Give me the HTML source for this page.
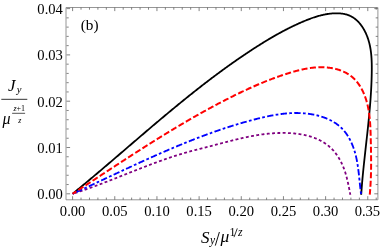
<!DOCTYPE html>
<html><head><meta charset="utf-8"><title>plot</title>
<style>html,body{margin:0;padding:0;background:#fff;}svg{display:block;will-change:transform;}text{font-family:"Liberation Serif",serif;fill:#000;}</style>
</head><body>
<svg width="381" height="249" viewBox="0 0 381 249">
<rect x="0" y="0" width="381" height="249" fill="#ffffff"/>
<g fill="none" stroke-linejoin="round">
<path d="M72.60,193.80 L73.18,193.33 L73.76,192.86 L74.33,192.38 L74.91,191.91 L75.49,191.44 L76.07,190.96 L76.65,190.49 L77.22,190.01 L77.80,189.54 L78.38,189.06 L78.95,188.59 L79.53,188.11 L80.11,187.64 L80.68,187.16 L81.26,186.69 L81.83,186.21 L82.41,185.73 L82.98,185.25 L83.56,184.78 L84.13,184.30 L84.71,183.82 L85.28,183.34 L85.86,182.86 L86.43,182.38 L87.01,181.90 L87.58,181.42 L88.16,180.94 L88.73,180.46 L89.30,179.98 L89.88,179.50 L90.45,179.02 L91.02,178.54 L91.60,178.06 L92.17,177.58 L92.74,177.10 L93.32,176.61 L93.89,176.13 L94.46,175.65 L95.03,175.17 L95.61,174.68 L96.18,174.20 L96.75,173.72 L97.32,173.23 L97.90,172.75 L98.47,172.26 L99.04,171.78 L99.61,171.30 L100.18,170.81 L100.75,170.33 L101.33,169.84 L101.90,169.36 L102.47,168.87 L103.04,168.39 L103.61,167.90 L104.18,167.41 L104.75,166.93 L105.32,166.44 L105.89,165.96 L106.46,165.47 L107.04,164.98 L107.61,164.50 L108.18,164.01 L108.75,163.52 L109.32,163.04 L109.89,162.55 L110.46,162.06 L111.03,161.57 L111.60,161.09 L112.17,160.60 L112.74,160.11 L113.31,159.62 L113.88,159.14 L114.45,158.65 L115.02,158.16 L115.59,157.67 L116.16,157.18 L116.73,156.69 L117.30,156.21 L117.87,155.72 L118.44,155.23 L119.01,154.74 L119.58,154.25 L120.15,153.76 L120.72,153.27 L121.29,152.78 L121.86,152.30 L122.43,151.81 L123.00,151.32 L123.57,150.83 L124.14,150.34 L124.71,149.85 L125.28,149.36 L125.85,148.87 L126.42,148.38 L126.99,147.89 L127.56,147.41 L128.12,146.92 L128.69,146.43 L129.26,145.94 L129.83,145.45 L130.40,144.96 L130.97,144.47 L131.54,143.98 L132.11,143.49 L132.68,143.00 L133.25,142.51 L133.83,142.02 L134.40,141.54 L134.97,141.05 L135.54,140.56 L136.11,140.07 L136.68,139.58 L137.25,139.09 L137.82,138.60 L138.39,138.11 L138.96,137.63 L139.53,137.14 L140.10,136.65 L140.67,136.16 L141.24,135.67 L141.81,135.18 L142.38,134.70 L142.96,134.21 L143.53,133.72 L144.10,133.23 L144.67,132.74 L145.24,132.26 L145.81,131.77 L146.38,131.28 L146.96,130.79 L147.53,130.31 L148.10,129.82 L148.67,129.33 L149.24,128.85 L149.82,128.36 L150.39,127.87 L150.96,127.39 L151.53,126.90 L152.11,126.42 L152.68,125.93 L153.25,125.44 L153.83,124.96 L154.40,124.47 L154.97,123.99 L155.55,123.50 L156.12,123.02 L156.69,122.53 L157.27,122.05 L157.84,121.56 L158.42,121.08 L158.99,120.60 L159.56,120.11 L160.14,119.63 L160.71,119.14 L161.29,118.66 L161.86,118.18 L162.44,117.70 L163.01,117.21 L163.59,116.73 L164.17,116.25 L164.74,115.77 L165.32,115.29 L165.89,114.80 L166.47,114.32 L167.05,113.84 L167.62,113.36 L168.20,112.88 L168.78,112.40 L169.36,111.92 L169.93,111.44 L170.51,110.96 L171.09,110.48 L171.67,110.00 L172.25,109.53 L172.82,109.05 L173.40,108.57 L173.98,108.09 L174.56,107.62 L175.14,107.14 L175.72,106.66 L176.30,106.19 L176.88,105.71 L177.46,105.23 L178.04,104.76 L178.62,104.28 L179.20,103.81 L179.78,103.33 L180.36,102.86 L180.95,102.38 L181.53,101.91 L182.11,101.44 L182.69,100.97 L183.27,100.49 L183.86,100.02 L184.44,99.55 L185.02,99.08 L185.61,98.61 L186.19,98.14 L186.77,97.67 L187.36,97.20 L187.94,96.73 L188.53,96.26 L189.11,95.79 L189.70,95.32 L190.28,94.85 L190.87,94.38 L191.46,93.92 L192.04,93.45 L192.63,92.98 L193.22,92.52 L193.80,92.05 L194.39,91.59 L194.98,91.12 L195.57,90.66 L196.15,90.19 L196.74,89.73 L197.33,89.27 L197.92,88.80 L198.51,88.34 L199.10,87.88 L199.69,87.42 L200.28,86.96 L200.87,86.50 L201.46,86.04 L202.06,85.58 L202.65,85.12 L203.24,84.66 L203.83,84.20 L204.42,83.75 L205.02,83.29 L205.61,82.83 L206.20,82.38 L206.80,81.92 L207.39,81.47 L207.99,81.01 L208.58,80.56 L209.18,80.10 L209.77,79.65 L210.37,79.20 L210.97,78.75 L211.56,78.29 L212.16,77.84 L212.76,77.39 L213.36,76.94 L213.95,76.49 L214.55,76.05 L215.15,75.60 L215.75,75.15 L216.35,74.70 L216.95,74.26 L217.55,73.81 L218.15,73.36 L218.75,72.92 L219.36,72.48 L219.96,72.03 L220.56,71.59 L221.16,71.15 L221.77,70.70 L222.37,70.26 L222.97,69.82 L223.58,69.38 L224.18,68.94 L224.79,68.50 L225.39,68.07 L226.00,67.63 L226.60,67.19 L227.21,66.75 L227.82,66.32 L228.43,65.88 L229.03,65.45 L229.64,65.01 L230.25,64.58 L230.86,64.15 L231.47,63.72 L232.08,63.28 L232.69,62.85 L233.30,62.42 L233.91,61.99 L234.53,61.57 L235.14,61.14 L235.75,60.71 L236.36,60.28 L236.98,59.86 L237.59,59.43 L238.21,59.01 L238.82,58.58 L239.44,58.16 L240.05,57.74 L240.67,57.32 L241.29,56.89 L241.90,56.47 L242.52,56.05 L243.14,55.63 L243.76,55.22 L244.38,54.80 L245.00,54.38 L245.62,53.97 L246.24,53.55 L246.86,53.14 L247.48,52.72 L248.10,52.31 L248.73,51.90 L249.35,51.48 L249.97,51.07 L250.60,50.66 L251.22,50.25 L251.85,49.85 L252.47,49.44 L253.10,49.03 L253.73,48.62 L254.35,48.22 L254.98,47.81 L255.61,47.41 L256.24,47.01 L256.87,46.60 L257.50,46.20 L258.13,45.80 L258.76,45.40 L259.39,45.00 L260.02,44.61 L260.66,44.21 L261.29,43.81 L261.92,43.42 L262.56,43.02 L263.19,42.63 L263.83,42.24 L264.47,41.85 L265.11,41.46 L265.74,41.07 L266.38,40.68 L267.02,40.30 L267.66,39.91 L268.30,39.53 L268.95,39.15 L269.59,38.76 L270.23,38.38 L270.88,38.00 L271.52,37.63 L272.17,37.25 L272.82,36.87 L273.46,36.50 L274.11,36.13 L274.76,35.76 L275.41,35.39 L276.06,35.02 L276.72,34.65 L277.37,34.29 L278.02,33.92 L278.68,33.56 L279.33,33.20 L279.99,32.84 L280.65,32.48 L281.31,32.12 L281.97,31.77 L282.63,31.41 L283.29,31.06 L283.95,30.71 L284.62,30.36 L285.28,30.01 L285.95,29.67 L286.62,29.33 L287.28,28.98 L287.95,28.64 L288.63,28.30 L289.30,27.97 L289.97,27.63 L290.64,27.30 L291.32,26.97 L292.00,26.64 L292.67,26.31 L293.35,25.98 L294.03,25.66 L294.71,25.34 L295.40,25.02 L296.08,24.70 L296.77,24.38 L297.45,24.07 L298.14,23.76 L298.83,23.44 L299.52,23.14 L300.21,22.83 L300.90,22.53 L301.60,22.22 L302.29,21.92 L302.99,21.63 L303.69,21.33 L304.39,21.04 L305.09,20.75 L305.79,20.46 L306.49,20.17 L307.20,19.89 L307.91,19.61 L308.61,19.34 L309.32,19.06 L310.04,18.80 L310.75,18.53 L311.46,18.27 L312.18,18.02 L312.89,17.77 L313.61,17.52 L314.33,17.28 L315.05,17.04 L315.77,16.81 L316.50,16.59 L317.22,16.37 L317.95,16.15 L318.68,15.95 L319.41,15.75 L320.14,15.55 L320.87,15.36 L321.60,15.18 L322.34,15.01 L323.08,14.84 L323.81,14.68 L324.55,14.53 L325.30,14.38 L326.04,14.25 L326.78,14.12 L327.53,14.00 L328.28,13.89 L329.03,13.78 L329.78,13.69 L330.53,13.60 L331.28,13.53 L332.04,13.46 L332.79,13.41 L333.55,13.36 L334.31,13.32 L335.07,13.30 L335.83,13.28 L336.59,13.28 L337.35,13.28 L338.11,13.30 L338.86,13.34 L339.61,13.38 L340.37,13.44 L341.11,13.52 L341.86,13.60 L342.59,13.71 L343.33,13.82 L344.06,13.96 L344.78,14.11 L345.50,14.28 L346.20,14.46 L346.91,14.66 L347.60,14.88 L348.28,15.12 L348.96,15.38 L349.63,15.65 L350.28,15.95 L350.93,16.26 L351.56,16.60 L352.19,16.95 L352.80,17.32 L353.41,17.71 L354.00,18.12 L354.59,18.54 L355.16,18.98 L355.72,19.44 L356.28,19.91 L356.82,20.39 L357.35,20.89 L357.87,21.41 L358.38,21.93 L358.88,22.47 L359.37,23.03 L359.85,23.59 L360.32,24.17 L360.78,24.76 L361.23,25.35 L361.67,25.96 L362.10,26.58 L362.52,27.21 L362.93,27.84 L363.32,28.49 L363.71,29.14 L364.09,29.80 L364.45,30.46 L364.81,31.13 L365.15,31.81 L365.49,32.49 L365.81,33.18 L366.13,33.87 L366.43,34.57 L366.72,35.26 L367.01,35.97 L367.28,36.67 L367.54,37.38 L367.79,38.08 L368.04,38.80 L368.27,39.51 L368.49,40.22 L368.71,40.94 L368.91,41.66 L369.11,42.38 L369.29,43.11 L369.47,43.83 L369.64,44.56 L369.81,45.29 L369.96,46.02 L370.11,46.75 L370.25,47.49 L370.38,48.22 L370.50,48.96 L370.62,49.70 L370.73,50.44 L370.83,51.18 L370.93,51.92 L371.02,52.67 L371.11,53.41 L371.18,54.16 L371.26,54.91 L371.32,55.65 L371.39,56.40 L371.44,57.15 L371.49,57.90 L371.54,58.66 L371.58,59.41 L371.62,60.16 L371.65,60.91 L371.68,61.67 L371.71,62.42 L371.73,63.18 L371.75,63.93 L371.76,64.69 L371.77,65.45 L371.78,66.20 L371.78,66.96 L371.78,67.71 L371.78,68.47 L371.78,69.23 L371.78,69.98 L371.77,70.74 L371.76,71.50 L371.75,72.25 L371.74,73.01 L371.73,73.76 L371.71,74.52 L371.70,75.27 L371.68,76.03 L371.66,76.78 L371.64,77.53 L371.62,78.29 L371.60,79.04 L371.57,79.79 L371.55,80.55 L371.52,81.30 L371.49,82.05 L371.46,82.80 L371.43,83.55 L371.40,84.31 L371.37,85.06 L371.33,85.81 L371.30,86.56 L371.26,87.31 L371.22,88.06 L371.18,88.81 L371.14,89.56 L371.10,90.31 L371.06,91.06 L371.01,91.81 L370.97,92.56 L370.92,93.31 L370.88,94.05 L370.83,94.80 L370.78,95.55 L370.73,96.30 L370.68,97.05 L370.63,97.79 L370.58,98.54 L370.52,99.29 L370.47,100.04 L370.41,100.78 L370.36,101.53 L370.30,102.28 L370.24,103.02 L370.18,103.77 L370.12,104.52 L370.06,105.26 L370.00,106.01 L369.94,106.75 L369.87,107.50 L369.81,108.25 L369.74,108.99 L369.68,109.74 L369.61,110.48 L369.55,111.23 L369.48,111.97 L369.41,112.72 L369.34,113.46 L369.27,114.21 L369.20,114.95 L369.13,115.69 L369.06,116.44 L368.99,117.18 L368.91,117.93 L368.84,118.67 L368.77,119.41 L368.69,120.16 L368.62,120.90 L368.54,121.65 L368.47,122.39 L368.39,123.13 L368.32,123.88 L368.24,124.62 L368.16,125.36 L368.08,126.11 L368.01,126.85 L367.93,127.59 L367.85,128.34 L367.77,129.08 L367.69,129.82 L367.61,130.56 L367.53,131.31 L367.45,132.05 L367.37,132.79 L367.29,133.54 L367.20,134.28 L367.12,135.02 L367.04,135.77 L366.96,136.51 L366.88,137.25 L366.80,137.99 L366.71,138.74 L366.63,139.48 L366.55,140.22 L366.46,140.97 L366.38,141.71 L366.30,142.45 L366.22,143.19 L366.13,143.94 L366.05,144.68 L365.97,145.42 L365.88,146.17 L365.80,146.91 L365.72,147.65 L365.63,148.40 L365.55,149.14 L365.47,149.88 L365.39,150.63 L365.30,151.37 L365.22,152.11 L365.14,152.86 L365.06,153.60 L364.97,154.34 L364.89,155.09 L364.81,155.83 L364.73,156.57 L364.65,157.32 L364.57,158.06 L364.49,158.81 L364.40,159.55 L364.32,160.30 L364.24,161.04 L364.16,161.78 L364.09,162.53 L364.01,163.27 L363.93,164.02 L363.85,164.76 L363.77,165.51 L363.69,166.25 L363.62,167.00 L363.54,167.75 L363.46,168.49 L363.39,169.24 L363.31,169.98 L363.24,170.73 L363.16,171.47 L363.09,172.22 L363.02,172.97 L362.95,173.71 L362.87,174.46 L362.80,175.21 L362.73,175.96 L362.66,176.70 L362.59,177.45 L362.52,178.20 L362.45,178.95 L362.39,179.69 L362.32,180.44 L362.25,181.19 L362.19,181.94 L362.12,182.69 L362.06,183.44 L362.00,184.19 L361.93,184.94 L361.87,185.69 L361.81,186.44 L361.75,187.19 L361.69,187.94 L361.63,188.69 L361.58,189.44 L361.52,190.19 L361.46,190.94 L361.41,191.69 L361.36,192.44 L361.30,193.20 L361.25,193.95 L361.20,194.70" stroke="#000000" stroke-width="1.8"/>
<path d="M74.62,193.16 L74.80,193.10 L75.24,192.96 L75.68,192.82 L76.12,192.68 L76.56,192.53 L77.00,192.39 L77.38,192.27 M79.66,191.52 L80.07,191.38 L80.51,191.23 L80.95,191.08 L81.39,190.94 L81.83,190.79 L82.26,190.64 L82.41,190.59 M84.68,189.81 L84.89,189.74 L85.32,189.59 L85.76,189.43 L86.19,189.28 L86.63,189.13 L87.07,188.98 L87.42,188.85 M89.69,188.05 L90.11,187.89 L90.55,187.74 L90.98,187.58 L91.42,187.42 L91.85,187.27 L92.29,187.11 L92.41,187.06 M94.67,186.24 L94.89,186.16 L95.32,186.00 L95.76,185.84 L96.19,185.68 L96.63,185.52 L97.06,185.36 L97.39,185.23 M99.65,184.39 L99.65,184.39 L100.09,184.22 L100.52,184.06 L100.95,183.90 L101.38,183.73 L101.82,183.57 L102.25,183.41 L102.36,183.36 M104.61,182.51 L104.84,182.42 L105.27,182.25 L105.70,182.09 L106.13,181.92 L106.56,181.75 L107.00,181.59 L107.31,181.46 M109.55,180.60 L109.58,180.58 L110.01,180.42 L110.44,180.25 L110.87,180.08 L111.30,179.91 L111.73,179.75 L112.16,179.58 L112.26,179.54 M114.50,178.66 L114.75,178.57 L115.18,178.40 L115.61,178.23 L116.04,178.06 L116.47,177.89 L116.90,177.72 L117.19,177.60 M119.43,176.72 L119.48,176.70 L119.91,176.53 L120.34,176.36 L120.77,176.19 L121.20,176.02 L121.62,175.85 L122.05,175.68 L122.13,175.65 M124.36,174.76 L124.63,174.66 L125.06,174.49 L125.49,174.32 L125.92,174.15 L126.35,173.98 L126.78,173.81 L127.06,173.70 M129.29,172.81 L129.36,172.78 L129.79,172.61 L130.22,172.44 L130.65,172.27 L131.08,172.10 L131.51,171.93 L131.94,171.76 L131.99,171.74 M134.23,170.86 L134.52,170.75 L134.95,170.58 L135.38,170.41 L135.81,170.24 L136.24,170.07 L136.67,169.90 L136.93,169.80 M139.17,168.92 L139.25,168.89 L139.68,168.72 L140.11,168.55 L140.54,168.38 L140.97,168.22 L141.40,168.05 L141.83,167.88 L141.87,167.87 M144.11,167.00 L144.42,166.88 L144.85,166.72 L145.28,166.55 L145.71,166.38 L146.14,166.22 L146.57,166.05 L146.82,165.96 M149.07,165.10 L149.16,165.07 L149.59,164.90 L150.03,164.74 L150.46,164.58 L150.89,164.41 L151.32,164.25 L151.75,164.09 L151.78,164.08 M154.03,163.24 L154.35,163.12 L154.78,162.96 L155.22,162.80 L155.65,162.64 L156.08,162.48 L156.52,162.32 L156.75,162.24 M159.01,161.41 L159.12,161.37 L159.55,161.22 L159.99,161.06 L160.42,160.91 L160.86,160.75 L161.29,160.59 L161.73,160.44 L161.74,160.43 M164.01,159.63 L164.34,159.52 L164.77,159.36 L165.21,159.21 L165.64,159.06 L166.08,158.91 L166.52,158.76 L166.75,158.68 M169.02,157.90 L169.14,157.86 L169.57,157.71 L170.01,157.57 L170.45,157.42 L170.89,157.27 L171.32,157.13 L171.76,156.98 L171.77,156.98 M174.06,156.23 L174.39,156.12 L174.83,155.98 L175.27,155.83 L175.71,155.69 L176.15,155.55 L176.59,155.41 L176.82,155.34 M179.11,154.62 L179.24,154.58 L179.68,154.45 L180.12,154.31 L180.56,154.17 L181.00,154.04 L181.44,153.91 L181.89,153.77 L181.89,153.77 M184.19,153.08 L184.54,152.98 L184.99,152.85 L185.43,152.72 L185.87,152.59 L186.32,152.47 L186.76,152.34 L186.98,152.28 M189.29,151.63 L189.43,151.59 L189.88,151.47 L190.32,151.34 L190.77,151.22 L191.22,151.10 L191.66,150.98 L192.09,150.87 M194.42,150.25 L194.80,150.15 L195.24,150.03 L195.69,149.92 L196.14,149.80 L196.59,149.69 L197.04,149.57 L197.22,149.52 M199.55,148.93 L199.73,148.88 L200.18,148.77 L200.63,148.66 L201.08,148.54 L201.53,148.43 L201.97,148.32 L202.36,148.22 M204.70,147.63 L205.12,147.52 L205.57,147.40 L206.01,147.29 L206.46,147.17 L206.91,147.06 L207.36,146.94 L207.51,146.91 M209.83,146.30 L210.05,146.25 L210.50,146.13 L210.94,146.01 L211.39,145.90 L211.84,145.78 L212.29,145.66 L212.64,145.57 M214.97,144.96 L214.97,144.96 L215.42,144.84 L215.87,144.72 L216.31,144.60 L216.76,144.48 L217.21,144.37 L217.65,144.25 L217.77,144.22 M220.09,143.60 L220.34,143.54 L220.78,143.42 L221.23,143.30 L221.68,143.19 L222.12,143.07 L222.57,142.95 L222.90,142.87 M225.23,142.26 L225.25,142.25 L225.70,142.14 L226.14,142.02 L226.59,141.90 L227.04,141.79 L227.48,141.67 L227.93,141.56 L228.03,141.53 M230.36,140.94 L230.61,140.87 L231.06,140.76 L231.51,140.65 L231.95,140.54 L232.40,140.42 L232.85,140.31 L233.18,140.23 M235.51,139.66 L235.53,139.65 L235.98,139.54 L236.43,139.44 L236.87,139.33 L237.32,139.22 L237.77,139.11 L238.22,139.01 L238.33,138.98 M240.67,138.44 L240.91,138.38 L241.36,138.28 L241.81,138.18 L242.25,138.08 L242.70,137.98 L243.15,137.88 L243.50,137.80 M245.86,137.29 L246.30,137.20 L246.75,137.11 L247.20,137.01 L247.65,136.92 L248.10,136.83 L248.55,136.74 L248.70,136.71 M251.06,136.25 L251.25,136.21 L251.71,136.12 L252.16,136.04 L252.61,135.95 L253.06,135.87 L253.51,135.79 L253.91,135.72 M256.28,135.31 L256.68,135.24 L257.14,135.17 L257.59,135.10 L258.04,135.02 L258.50,134.95 L258.95,134.88 L259.14,134.85 M261.52,134.51 L261.68,134.48 L262.14,134.42 L262.59,134.36 L263.05,134.30 L263.51,134.24 L263.96,134.18 L264.40,134.13 M266.78,133.85 L267.17,133.81 L267.62,133.76 L268.08,133.71 L268.54,133.67 L269.00,133.62 L269.46,133.58 L269.67,133.56 M272.07,133.36 L272.22,133.35 L272.68,133.31 L273.14,133.28 L273.61,133.25 L274.07,133.22 L274.53,133.19 L274.96,133.17 M277.36,133.05 L277.78,133.03 L278.24,133.02 L278.70,133.00 L279.17,132.99 L279.64,132.98 L280.10,132.97 L280.26,132.96 M282.67,132.94 L282.90,132.94 L283.37,132.94 L283.84,132.94 L284.31,132.94 L284.78,132.95 L285.25,132.96 L285.57,132.96 M287.97,133.03 L288.07,133.04 L288.54,133.06 L289.01,133.08 L289.48,133.10 L289.95,133.13 L290.42,133.16 L290.87,133.18 M293.26,133.36 L293.70,133.40 L294.17,133.45 L294.64,133.49 L295.11,133.54 L295.58,133.59 L296.04,133.64 L296.15,133.66 M298.53,133.96 L298.84,134.00 L299.30,134.07 L299.76,134.14 L300.22,134.22 L300.69,134.29 L301.15,134.37 L301.40,134.41 M303.76,134.86 L303.89,134.89 L304.35,134.98 L304.80,135.08 L305.26,135.18 L305.71,135.28 L306.16,135.39 L306.59,135.49 M308.92,136.10 L309.28,136.20 L309.72,136.33 L310.16,136.46 L310.60,136.59 L311.04,136.73 L311.48,136.87 L311.69,136.94 M313.97,137.73 L314.06,137.76 L314.49,137.92 L314.91,138.09 L315.34,138.25 L315.76,138.42 L316.18,138.59 L316.59,138.77 L316.66,138.80 M318.85,139.79 L319.06,139.89 L319.46,140.09 L319.87,140.29 L320.27,140.49 L320.67,140.70 L321.06,140.91 L321.43,141.11 M323.51,142.32 L323.78,142.49 L324.16,142.73 L324.53,142.97 L324.91,143.21 L325.28,143.46 L325.65,143.72 L325.93,143.92 M327.86,145.35 L328.17,145.60 L328.52,145.88 L328.87,146.17 L329.21,146.46 L329.55,146.75 L329.89,147.05 L330.08,147.22 M331.82,148.88 L331.87,148.93 L332.18,149.25 L332.50,149.58 L332.81,149.92 L333.12,150.26 L333.43,150.60 L333.74,150.95 L333.79,151.01 M335.31,152.87 L335.50,153.10 L335.78,153.47 L336.06,153.85 L336.33,154.22 L336.61,154.60 L336.88,154.99 L337.03,155.20 M338.35,157.21 L338.44,157.35 L338.68,157.75 L338.93,158.15 L339.17,158.56 L339.41,158.97 L339.65,159.38 L339.83,159.71 M340.96,161.83 L340.99,161.89 L341.21,162.31 L341.42,162.74 L341.62,163.16 L341.83,163.59 L342.03,164.02 L342.22,164.44 M343.17,166.65 L343.34,167.06 L343.51,167.50 L343.68,167.93 L343.85,168.37 L344.02,168.81 L344.18,169.25 L344.21,169.36 M345.00,171.63 L345.09,171.91 L345.23,172.35 L345.37,172.80 L345.51,173.24 L345.65,173.69 L345.78,174.13 L345.86,174.40 M346.50,176.72 L346.53,176.82 L346.65,177.27 L346.77,177.71 L346.88,178.16 L346.99,178.61 L347.10,179.06 L347.21,179.51 L347.22,179.53 M347.76,181.87 L347.84,182.21 L347.94,182.66 L348.03,183.11 L348.13,183.56 L348.23,184.01 L348.32,184.46 L348.37,184.70 M348.85,187.06 L348.87,187.15 L348.96,187.60 L349.05,188.04 L349.14,188.49 L349.23,188.94 L349.31,189.38 L349.40,189.83 L349.42,189.91 M349.87,192.27 L349.92,192.49 L350.00,192.94 L350.09,193.38 L350.18,193.82 L350.26,194.26 L350.35,194.70" stroke="#800080" stroke-width="1.8"/>
<path d="M72.60,193.80 L73.07,193.59 L73.53,193.37 L74.00,193.16 L74.24,193.05 M76.35,192.09 L76.80,191.88 L77.26,191.67 L77.73,191.45 L78.20,191.24 L78.66,191.02 L79.13,190.81 L79.59,190.59 L80.06,190.38 L80.53,190.17 L80.99,189.95 L81.46,189.74 L81.92,189.52 L82.13,189.42 M84.24,188.45 L84.25,188.44 L84.72,188.23 L85.18,188.01 L85.65,187.80 L86.11,187.58 L86.58,187.36 L86.69,187.31 M88.79,186.34 L88.91,186.28 L89.37,186.07 L89.84,185.85 L90.30,185.63 L90.77,185.42 L91.23,185.20 L91.70,184.98 L92.16,184.77 L92.63,184.55 L93.10,184.33 L93.56,184.11 L94.03,183.90 L94.49,183.68 L94.57,183.64 M96.67,182.66 L96.82,182.59 L97.28,182.38 L97.75,182.16 L98.21,181.94 L98.68,181.72 L99.11,181.52 M101.21,180.53 L101.47,180.42 L101.93,180.20 L102.40,179.98 L102.86,179.76 L103.33,179.54 L103.79,179.33 L104.26,179.11 L104.72,178.89 L105.19,178.67 L105.65,178.45 L106.12,178.24 L106.59,178.02 L106.98,177.83 M109.08,176.85 L109.38,176.71 L109.84,176.49 L110.31,176.27 L110.77,176.06 L111.24,175.84 L111.53,175.70 M113.63,174.72 L114.03,174.53 L114.49,174.31 L114.96,174.10 L115.42,173.88 L115.89,173.66 L116.36,173.44 L116.82,173.22 L117.29,173.01 L117.75,172.79 L118.22,172.57 L118.68,172.35 L119.15,172.14 L119.40,172.02 M121.50,171.04 L121.94,170.83 L122.41,170.62 L122.87,170.40 L123.34,170.18 L123.81,169.96 L123.95,169.90 M126.05,168.92 L126.13,168.88 L126.60,168.66 L127.07,168.45 L127.53,168.23 L128.00,168.02 L128.46,167.80 L128.93,167.58 L129.40,167.37 L129.86,167.15 L130.33,166.94 L130.80,166.72 L131.26,166.50 L131.73,166.29 L131.83,166.24 M133.94,165.27 L134.06,165.21 L134.53,165.00 L134.99,164.78 L135.46,164.57 L135.93,164.35 L136.39,164.14 M138.50,163.17 L138.73,163.07 L139.20,162.85 L139.66,162.64 L140.13,162.43 L140.60,162.21 L141.07,162.00 L141.53,161.79 L142.00,161.57 L142.47,161.36 L142.94,161.15 L143.40,160.94 L143.87,160.72 L144.30,160.53 M146.41,159.57 L146.68,159.45 L147.15,159.24 L147.61,159.03 L148.08,158.82 L148.55,158.61 L148.87,158.46 M150.99,157.51 L151.36,157.34 L151.83,157.13 L152.30,156.93 L152.77,156.72 L153.24,156.51 L153.71,156.30 L154.18,156.09 L154.65,155.88 L155.11,155.67 L155.58,155.46 L156.05,155.26 L156.52,155.05 L156.81,154.92 M158.93,153.99 L159.34,153.80 L159.81,153.60 L160.28,153.39 L160.75,153.19 L161.22,152.98 L161.40,152.90 M163.53,151.97 L163.58,151.95 L164.05,151.75 L164.52,151.54 L164.99,151.34 L165.46,151.14 L165.93,150.93 L166.40,150.73 L166.87,150.53 L167.34,150.32 L167.82,150.12 L168.29,149.92 L168.76,149.72 L169.23,149.51 L169.38,149.45 M171.51,148.54 L171.59,148.51 L172.06,148.31 L172.54,148.11 L173.01,147.91 L173.48,147.71 L173.95,147.51 L174.00,147.49 M176.14,146.59 L176.32,146.52 L176.79,146.32 L177.27,146.12 L177.74,145.92 L178.21,145.73 L178.69,145.53 L179.16,145.33 L179.64,145.14 L180.11,144.94 L180.58,144.75 L181.06,144.55 L181.53,144.36 L182.01,144.16 L182.02,144.15 M184.17,143.28 L184.38,143.19 L184.86,143.00 L185.33,142.81 L185.81,142.61 L186.28,142.42 L186.67,142.26 M188.83,141.40 L189.14,141.28 L189.62,141.09 L190.09,140.90 L190.57,140.71 L191.05,140.52 L191.52,140.33 L192.00,140.14 L192.48,139.96 L192.96,139.77 L193.43,139.58 L193.91,139.39 L194.39,139.21 L194.75,139.07 M196.92,138.23 L197.26,138.10 L197.74,137.91 L198.22,137.73 L198.69,137.55 L199.17,137.36 L199.44,137.26 M201.61,136.44 L202.05,136.27 L202.53,136.09 L203.01,135.91 L203.49,135.73 L203.97,135.56 L204.45,135.38 L204.93,135.20 L205.41,135.02 L205.90,134.84 L206.38,134.67 L206.86,134.49 L207.34,134.31 L207.58,134.22 M209.76,133.43 L210.23,133.26 L210.71,133.09 L211.20,132.92 L211.68,132.74 L212.16,132.57 L212.30,132.52 M214.49,131.75 L214.58,131.71 L215.06,131.55 L215.55,131.38 L216.03,131.21 L216.52,131.04 L217.00,130.87 L217.49,130.70 L217.97,130.53 L218.46,130.37 L218.94,130.20 L219.43,130.04 L219.91,129.87 L220.40,129.70 L220.51,129.67 M222.71,128.93 L222.83,128.89 L223.32,128.72 L223.80,128.56 L224.29,128.40 L224.78,128.24 L225.26,128.08 L225.27,128.08 M227.48,127.36 L227.70,127.28 L228.19,127.13 L228.68,126.97 L229.17,126.81 L229.66,126.65 L230.15,126.50 L230.64,126.34 L231.13,126.19 L231.62,126.03 L232.11,125.88 L232.60,125.73 L233.09,125.57 L233.55,125.43 M235.77,124.75 L236.03,124.67 L236.52,124.52 L237.02,124.37 L237.51,124.22 L238.00,124.07 L238.35,123.97 M240.58,123.31 L240.96,123.20 L241.45,123.05 L241.94,122.91 L242.44,122.76 L242.93,122.62 L243.43,122.48 L243.92,122.34 L244.42,122.20 L244.91,122.06 L245.41,121.92 L245.90,121.78 L246.40,121.64 L246.70,121.55 M248.94,120.94 L249.37,120.82 L249.87,120.68 L250.37,120.55 L250.86,120.41 L251.36,120.28 L251.54,120.23 M253.78,119.64 L253.85,119.62 L254.35,119.49 L254.85,119.36 L255.35,119.23 L255.85,119.10 L256.35,118.98 L256.85,118.85 L257.35,118.72 L257.85,118.60 L258.35,118.47 L258.85,118.35 L259.35,118.23 L259.85,118.11 L259.96,118.08 M262.22,117.54 L262.36,117.51 L262.86,117.39 L263.36,117.28 L263.87,117.16 L264.37,117.05 L264.85,116.94 M267.12,116.45 L267.39,116.39 L267.90,116.28 L268.40,116.18 L268.90,116.08 L269.41,115.97 L269.91,115.87 L270.42,115.77 L270.92,115.68 L271.43,115.58 L271.94,115.48 L272.44,115.39 L272.95,115.30 L273.37,115.22 M275.65,114.83 L275.99,114.78 L276.50,114.70 L277.00,114.62 L277.51,114.54 L278.02,114.46 L278.32,114.42 M280.62,114.10 L281.07,114.04 L281.58,113.98 L282.09,113.91 L282.60,113.85 L283.11,113.79 L283.62,113.74 L284.13,113.68 L284.64,113.63 L285.15,113.58 L285.66,113.53 L286.17,113.49 L286.68,113.44 L286.95,113.42 M289.27,113.25 L289.75,113.22 L290.27,113.19 L290.78,113.17 L291.29,113.14 L291.80,113.12 L291.96,113.11 M294.28,113.05 L294.37,113.04 L294.88,113.04 L295.40,113.03 L295.91,113.03 L296.43,113.03 L296.94,113.03 L297.45,113.04 L297.97,113.04 L298.48,113.05 L299.00,113.07 L299.51,113.08 L300.03,113.10 L300.55,113.12 L300.65,113.13 M302.97,113.26 L303.13,113.27 L303.64,113.31 L304.16,113.35 L304.67,113.39 L305.19,113.44 L305.66,113.48 M307.96,113.74 L308.29,113.78 L308.81,113.85 L309.33,113.92 L309.84,113.99 L310.36,114.07 L310.87,114.15 L311.39,114.23 L311.90,114.32 L312.41,114.41 L312.93,114.50 L313.44,114.60 L313.95,114.70 L314.25,114.76 M316.52,115.26 L317.00,115.37 L317.50,115.49 L318.00,115.62 L318.51,115.75 L319.01,115.89 L319.13,115.92 M321.36,116.57 L321.49,116.61 L321.98,116.77 L322.47,116.93 L322.95,117.09 L323.44,117.26 L323.92,117.43 L324.40,117.61 L324.88,117.78 L325.36,117.97 L325.84,118.15 L326.31,118.34 L326.78,118.54 L327.25,118.74 L327.33,118.77 M329.45,119.73 L329.56,119.79 L330.02,120.01 L330.47,120.24 L330.92,120.47 L331.36,120.70 L331.81,120.94 L331.85,120.96 M333.86,122.12 L333.98,122.20 L334.41,122.46 L334.83,122.73 L335.25,123.01 L335.66,123.28 L336.08,123.57 L336.48,123.85 L336.89,124.14 L337.29,124.44 L337.69,124.74 L338.08,125.04 L338.47,125.35 L338.86,125.66 L339.04,125.81 M340.79,127.34 L341.10,127.64 L341.46,127.99 L341.82,128.34 L342.17,128.69 L342.51,129.05 L342.70,129.25 M344.23,130.99 L344.50,131.31 L344.82,131.70 L345.13,132.10 L345.44,132.50 L345.74,132.90 L346.04,133.31 L346.34,133.72 L346.63,134.14 L346.92,134.56 L347.20,134.98 L347.48,135.41 L347.75,135.84 L347.95,136.15 M349.13,138.15 L349.32,138.49 L349.57,138.94 L349.81,139.40 L350.05,139.85 L350.29,140.32 L350.40,140.54 M351.40,142.63 L351.41,142.66 L351.62,143.14 L351.83,143.62 L352.04,144.10 L352.24,144.58 L352.44,145.06 L352.63,145.55 L352.82,146.04 L353.01,146.53 L353.19,147.02 L353.37,147.51 L353.55,148.01 L353.72,148.51 L353.74,148.55 M354.46,150.76 L354.54,151.01 L354.69,151.51 L354.84,152.01 L354.98,152.52 L355.12,153.03 L355.21,153.35 M355.79,155.59 L355.91,156.08 L356.03,156.59 L356.15,157.10 L356.27,157.62 L356.38,158.13 L356.49,158.64 L356.60,159.16 L356.70,159.67 L356.80,160.19 L356.90,160.71 L357.00,161.22 L357.10,161.74 L357.11,161.83 M357.51,164.11 L357.54,164.33 L357.63,164.85 L357.71,165.37 L357.79,165.89 L357.86,166.41 L357.92,166.78 M358.24,169.08 L358.30,169.52 L358.36,170.04 L358.43,170.56 L358.49,171.08 L358.56,171.60 L358.62,172.11 L358.68,172.63 L358.74,173.15 L358.80,173.67 L358.86,174.18 L358.92,174.70 L358.97,175.22 L358.99,175.40 M359.24,177.71 L359.25,177.79 L359.30,178.30 L359.35,178.82 L359.41,179.33 L359.46,179.84 L359.51,180.35 L359.51,180.40 M359.75,182.70 L359.77,182.89 L359.82,183.40 L359.87,183.90 L359.93,184.40 L359.98,184.91 L360.03,185.41 L360.09,185.91 L360.14,186.41 L360.20,186.91 L360.25,187.40 L360.31,187.90 L360.37,188.39 L360.42,188.89 L360.44,189.04 M360.73,191.34 L360.79,191.82 L360.86,192.30 L360.92,192.79 L360.99,193.27 L361.06,193.75 L361.10,194.01" stroke="#0000ff" stroke-width="1.85"/>
<path d="M72.60,193.80 L73.12,193.46 L73.64,193.12 L74.17,192.78 L74.69,192.44 L75.21,192.10 L75.73,191.77 L76.25,191.43 L76.32,191.38 M78.37,190.05 L78.87,189.73 L79.39,189.39 L79.91,189.05 L80.43,188.71 L80.95,188.36 L81.48,188.02 L82.00,187.68 L82.52,187.34 L83.04,187.00 L83.43,186.75 M85.48,185.41 L85.65,185.30 L86.17,184.95 L86.70,184.61 L87.22,184.27 L87.74,183.93 L88.26,183.59 L88.79,183.25 L89.31,182.90 L89.83,182.56 L90.35,182.22 L90.54,182.10 M92.59,180.76 L92.96,180.51 L93.49,180.17 L94.01,179.83 L94.53,179.48 L95.05,179.14 L95.58,178.80 L96.10,178.46 L96.62,178.11 L97.15,177.77 L97.64,177.45 M99.69,176.10 L99.76,176.06 L100.28,175.72 L100.80,175.37 L101.33,175.03 L101.85,174.69 L102.37,174.34 L102.90,174.00 L103.42,173.66 L103.94,173.32 L104.47,172.97 L104.74,172.79 M106.79,171.45 L107.08,171.26 L107.61,170.92 L108.13,170.58 L108.65,170.23 L109.18,169.89 L109.70,169.55 L110.22,169.20 L110.75,168.86 L111.27,168.52 L111.80,168.18 L111.84,168.15 M113.90,166.81 L114.42,166.47 L114.94,166.12 L115.46,165.78 L115.99,165.44 L116.51,165.10 L117.04,164.76 L117.56,164.41 L118.09,164.07 L118.61,163.73 L118.95,163.51 M121.01,162.17 L121.24,162.02 L121.76,161.68 L122.29,161.34 L122.81,161.00 L123.34,160.66 L123.86,160.32 L124.39,159.97 L124.91,159.63 L125.44,159.29 L125.96,158.95 L126.07,158.88 M128.13,157.55 L128.59,157.25 L129.12,156.91 L129.65,156.57 L130.17,156.23 L130.70,155.89 L131.23,155.55 L131.75,155.21 L132.28,154.87 L132.81,154.53 L133.21,154.28 M135.27,152.95 L135.44,152.84 L135.97,152.50 L136.50,152.16 L137.02,151.82 L137.55,151.49 L138.08,151.15 L138.61,150.81 L139.13,150.47 L139.66,150.13 L140.19,149.80 L140.35,149.69 M142.42,148.38 L142.83,148.11 L143.36,147.78 L143.89,147.44 L144.42,147.11 L144.95,146.77 L145.48,146.43 L146.01,146.10 L146.54,145.76 L147.07,145.43 L147.52,145.14 M149.59,143.83 L149.71,143.76 L150.25,143.42 L150.78,143.09 L151.31,142.75 L151.84,142.42 L152.37,142.09 L152.90,141.75 L153.43,141.42 L153.96,141.09 L154.49,140.76 L154.71,140.62 M156.79,139.33 L157.15,139.10 L157.68,138.77 L158.21,138.44 L158.74,138.11 L159.28,137.78 L159.81,137.45 L160.34,137.12 L160.87,136.79 L161.41,136.46 L161.92,136.14 M164.01,134.86 L164.07,134.82 L164.61,134.49 L165.14,134.16 L165.67,133.83 L166.21,133.51 L166.74,133.18 L167.28,132.85 L167.81,132.53 L168.35,132.20 L168.88,131.88 L169.16,131.71 M171.25,130.44 L171.56,130.25 L172.09,129.93 L172.63,129.60 L173.16,129.28 L173.70,128.96 L174.24,128.64 L174.77,128.31 L175.31,127.99 L175.85,127.67 L176.38,127.35 L176.43,127.32 M178.53,126.07 L178.53,126.07 L179.07,125.75 L179.61,125.43 L180.15,125.11 L180.69,124.79 L181.22,124.47 L181.76,124.15 L182.30,123.83 L182.84,123.52 L183.38,123.20 L183.73,122.99 M185.84,121.75 L186.08,121.62 L186.62,121.30 L187.16,120.99 L187.70,120.67 L188.24,120.36 L188.78,120.04 L189.32,119.73 L189.86,119.42 L190.40,119.11 L190.94,118.79 L191.07,118.72 M193.19,117.50 L193.65,117.24 L194.20,116.93 L194.74,116.62 L195.28,116.31 L195.83,116.00 L196.37,115.69 L196.91,115.38 L197.46,115.08 L198.00,114.77 L198.44,114.52 M200.58,113.32 L200.72,113.24 L201.27,112.93 L201.81,112.63 L202.36,112.32 L202.90,112.02 L203.45,111.72 L204.00,111.41 L204.54,111.11 L205.09,110.81 L205.64,110.51 L205.86,110.39 M208.01,109.21 L208.37,109.01 L208.92,108.71 L209.47,108.41 L210.02,108.11 L210.57,107.82 L211.11,107.52 L211.66,107.22 L212.21,106.93 L212.76,106.63 L213.31,106.34 L213.32,106.33 M215.48,105.18 L215.51,105.16 L216.06,104.87 L216.61,104.57 L217.17,104.28 L217.72,103.99 L218.27,103.70 L218.82,103.41 L219.37,103.12 L219.92,102.83 L220.48,102.54 L220.82,102.36 M223.00,101.23 L223.24,101.10 L223.80,100.82 L224.35,100.53 L224.91,100.25 L225.46,99.96 L226.02,99.68 L226.57,99.39 L227.13,99.11 L227.68,98.83 L228.24,98.55 L228.37,98.48 M230.56,97.38 L231.02,97.15 L231.58,96.87 L232.13,96.59 L232.69,96.31 L233.25,96.03 L233.81,95.76 L234.37,95.48 L234.93,95.21 L235.48,94.93 L235.97,94.69 M238.18,93.62 L238.28,93.57 L238.84,93.29 L239.41,93.02 L239.97,92.75 L240.53,92.48 L241.09,92.22 L241.65,91.95 L242.21,91.68 L242.78,91.41 L243.34,91.15 L243.62,91.01 M245.84,89.97 L246.16,89.83 L246.72,89.56 L247.29,89.30 L247.86,89.04 L248.42,88.78 L248.99,88.52 L249.56,88.27 L250.12,88.01 L250.69,87.75 L251.26,87.50 L251.34,87.46 M253.57,86.46 L254.10,86.23 L254.67,85.98 L255.24,85.73 L255.82,85.48 L256.39,85.23 L256.96,84.99 L257.53,84.74 L258.10,84.49 L258.68,84.25 L259.12,84.06 M261.38,83.11 L261.55,83.04 L262.13,82.80 L262.70,82.56 L263.28,82.33 L263.86,82.09 L264.44,81.86 L265.01,81.62 L265.59,81.39 L266.17,81.16 L266.75,80.93 L266.97,80.84 M269.25,79.95 L269.66,79.79 L270.24,79.56 L270.83,79.34 L271.41,79.12 L272.00,78.90 L272.58,78.68 L273.17,78.46 L273.75,78.24 L274.34,78.02 L274.90,77.82 M277.21,76.98 L277.28,76.96 L277.87,76.75 L278.47,76.54 L279.06,76.33 L279.65,76.12 L280.24,75.92 L280.84,75.72 L281.43,75.51 L282.02,75.31 L282.62,75.11 L282.92,75.01 M285.25,74.25 L285.61,74.13 L286.21,73.94 L286.81,73.75 L287.41,73.56 L288.01,73.37 L288.61,73.19 L289.21,73.00 L289.81,72.82 L290.42,72.63 L291.01,72.46 M293.36,71.77 L293.45,71.74 L294.06,71.57 L294.66,71.40 L295.27,71.23 L295.88,71.07 L296.49,70.90 L297.10,70.74 L297.72,70.58 L298.33,70.42 L298.94,70.27 L299.20,70.21 M301.58,69.64 L302.02,69.54 L302.63,69.41 L303.25,69.27 L303.87,69.14 L304.49,69.02 L305.11,68.89 L305.73,68.77 L306.35,68.66 L306.97,68.55 L307.50,68.45 M309.92,68.07 L310.08,68.05 L310.70,67.96 L311.33,67.88 L311.95,67.80 L312.58,67.73 L313.20,67.66 L313.83,67.59 L314.46,67.53 L315.09,67.48 L315.71,67.43 L315.93,67.42 M318.37,67.28 L318.86,67.26 L319.49,67.25 L320.13,67.24 L320.76,67.23 L321.39,67.23 L322.02,67.24 L322.66,67.25 L323.29,67.27 L323.93,67.29 L324.41,67.31 M326.85,67.49 L327.09,67.51 L327.72,67.57 L328.35,67.64 L328.98,67.71 L329.61,67.79 L330.23,67.88 L330.86,67.98 L331.48,68.08 L332.10,68.19 L332.72,68.30 L332.83,68.32 M335.23,68.84 L335.79,68.98 L336.39,69.13 L336.99,69.30 L337.59,69.47 L338.19,69.65 L338.78,69.83 L339.37,70.02 L339.96,70.22 L340.54,70.43 L341.00,70.60 M343.27,71.53 L343.39,71.58 L343.95,71.83 L344.50,72.09 L345.04,72.36 L345.59,72.63 L346.12,72.92 L346.66,73.21 L347.18,73.51 L347.70,73.82 L348.22,74.13 L348.59,74.37 M350.61,75.76 L350.70,75.83 L351.18,76.20 L351.65,76.57 L352.12,76.95 L352.57,77.34 L353.02,77.74 L353.47,78.15 L353.90,78.56 L354.33,78.98 L354.76,79.41 L355.11,79.78 M356.73,81.62 L356.77,81.67 L357.16,82.14 L357.53,82.62 L357.90,83.11 L358.27,83.60 L358.63,84.10 L358.98,84.60 L359.32,85.11 L359.66,85.62 L359.99,86.14 L360.23,86.53 M361.46,88.65 L361.55,88.82 L361.85,89.36 L362.14,89.92 L362.42,90.47 L362.69,91.03 L362.96,91.60 L363.23,92.16 L363.49,92.73 L363.74,93.31 L363.98,93.88 L364.07,94.09 M364.97,96.37 L365.13,96.81 L365.34,97.40 L365.54,97.99 L365.74,98.59 L365.94,99.18 L366.13,99.78 L366.31,100.38 L366.49,100.99 L366.66,101.59 L366.81,102.12 M367.42,104.49 L367.46,104.64 L367.60,105.25 L367.74,105.87 L367.88,106.48 L368.01,107.10 L368.14,107.72 L368.26,108.34 L368.38,108.96 L368.49,109.59 L368.60,110.21 L368.64,110.41 M369.02,112.83 L369.10,113.35 L369.18,113.98 L369.27,114.61 L369.35,115.24 L369.43,115.87 L369.50,116.50 L369.58,117.14 L369.64,117.77 L369.71,118.40 L369.75,118.82 M369.97,121.26 L370.00,121.58 L370.05,122.22 L370.09,122.86 L370.14,123.50 L370.18,124.13 L370.22,124.77 L370.26,125.41 L370.30,126.05 L370.33,126.69 L370.36,127.29 M370.48,129.74 L370.48,129.88 L370.51,130.51 L370.53,131.15 L370.55,131.79 L370.58,132.42 L370.60,133.06 L370.62,133.69 L370.63,134.33 L370.65,134.96 L370.67,135.60 L370.67,135.78 M370.73,138.22 L370.75,138.75 L370.76,139.38 L370.78,140.01 L370.79,140.64 L370.80,141.26 L370.82,141.89 L370.83,142.51 L370.85,143.14 L370.86,143.76 L370.87,144.26 M370.92,146.71 L370.92,146.86 L370.94,147.48 L370.95,148.10 L370.96,148.71 L370.97,149.33 L370.98,149.94 L370.99,150.56 L371.00,151.17 L371.01,151.79 L371.02,152.40 L371.03,152.75 M371.06,155.20 L371.07,155.47 L371.07,156.08 L371.08,156.69 L371.08,157.30 L371.09,157.91 L371.09,158.52 L371.10,159.13 L371.10,159.75 L371.11,160.36 L371.11,160.97 L371.11,161.24 M371.11,163.69 L371.11,164.02 L371.11,164.63 L371.10,165.24 L371.10,165.86 L371.10,166.47 L371.09,167.08 L371.08,167.69 L371.08,168.30 L371.07,168.92 L371.06,169.53 L371.06,169.73 M371.01,172.18 L371.00,172.60 L370.99,173.22 L370.97,173.84 L370.95,174.45 L370.94,175.07 L370.92,175.69 L370.90,176.31 L370.88,176.93 L370.85,177.55 L370.83,178.17 L370.83,178.22 M370.72,180.67 L370.72,180.67 L370.70,181.29 L370.66,181.92 L370.63,182.55 L370.60,183.18 L370.56,183.81 L370.53,184.44 L370.49,185.07 L370.45,185.70 L370.41,186.34 L370.39,186.70 M370.22,189.14 L370.19,189.53 L370.14,190.17 L370.09,190.81 L370.04,191.46 L369.98,192.10 L369.93,192.75 L369.87,193.40 L369.81,194.05 L369.75,194.70" stroke="#ff0000" stroke-width="2.0"/>
</g>
<g stroke="#8a8a8a" stroke-width="0.9" fill="none" stroke-linecap="square">
<path d="M66.50,7.50 H377.90 V199.80 H66.50 Z"/>
</g><g stroke="#5a5a5a" stroke-width="0.75" fill="none">
<path d="M72.60,199.80 v-3.60 M72.60,7.50 v3.60"/>
<path d="M81.03,199.80 v-2.20 M81.03,7.50 v2.20"/>
<path d="M89.47,199.80 v-2.20 M89.47,7.50 v2.20"/>
<path d="M97.90,199.80 v-2.20 M97.90,7.50 v2.20"/>
<path d="M106.34,199.80 v-2.20 M106.34,7.50 v2.20"/>
<path d="M114.77,199.80 v-3.60 M114.77,7.50 v3.60"/>
<path d="M123.20,199.80 v-2.20 M123.20,7.50 v2.20"/>
<path d="M131.64,199.80 v-2.20 M131.64,7.50 v2.20"/>
<path d="M140.07,199.80 v-2.20 M140.07,7.50 v2.20"/>
<path d="M148.51,199.80 v-2.20 M148.51,7.50 v2.20"/>
<path d="M156.94,199.80 v-3.60 M156.94,7.50 v3.60"/>
<path d="M165.37,199.80 v-2.20 M165.37,7.50 v2.20"/>
<path d="M173.81,199.80 v-2.20 M173.81,7.50 v2.20"/>
<path d="M182.24,199.80 v-2.20 M182.24,7.50 v2.20"/>
<path d="M190.68,199.80 v-2.20 M190.68,7.50 v2.20"/>
<path d="M199.11,199.80 v-3.60 M199.11,7.50 v3.60"/>
<path d="M207.54,199.80 v-2.20 M207.54,7.50 v2.20"/>
<path d="M215.98,199.80 v-2.20 M215.98,7.50 v2.20"/>
<path d="M224.41,199.80 v-2.20 M224.41,7.50 v2.20"/>
<path d="M232.85,199.80 v-2.20 M232.85,7.50 v2.20"/>
<path d="M241.28,199.80 v-3.60 M241.28,7.50 v3.60"/>
<path d="M249.71,199.80 v-2.20 M249.71,7.50 v2.20"/>
<path d="M258.15,199.80 v-2.20 M258.15,7.50 v2.20"/>
<path d="M266.58,199.80 v-2.20 M266.58,7.50 v2.20"/>
<path d="M275.02,199.80 v-2.20 M275.02,7.50 v2.20"/>
<path d="M283.45,199.80 v-3.60 M283.45,7.50 v3.60"/>
<path d="M291.88,199.80 v-2.20 M291.88,7.50 v2.20"/>
<path d="M300.32,199.80 v-2.20 M300.32,7.50 v2.20"/>
<path d="M308.75,199.80 v-2.20 M308.75,7.50 v2.20"/>
<path d="M317.19,199.80 v-2.20 M317.19,7.50 v2.20"/>
<path d="M325.62,199.80 v-3.60 M325.62,7.50 v3.60"/>
<path d="M334.05,199.80 v-2.20 M334.05,7.50 v2.20"/>
<path d="M342.49,199.80 v-2.20 M342.49,7.50 v2.20"/>
<path d="M350.92,199.80 v-2.20 M350.92,7.50 v2.20"/>
<path d="M359.36,199.80 v-2.20 M359.36,7.50 v2.20"/>
<path d="M367.79,199.80 v-3.60 M367.79,7.50 v3.60"/>
<path d="M376.22,199.80 v-2.20 M376.22,7.50 v2.20"/>
<path d="M66.50,193.80 h3.60 M377.90,193.80 h-3.60"/>
<path d="M66.50,184.54 h2.20 M377.90,184.54 h-2.20"/>
<path d="M66.50,175.28 h2.20 M377.90,175.28 h-2.20"/>
<path d="M66.50,166.02 h2.20 M377.90,166.02 h-2.20"/>
<path d="M66.50,156.76 h2.20 M377.90,156.76 h-2.20"/>
<path d="M66.50,147.50 h3.60 M377.90,147.50 h-3.60"/>
<path d="M66.50,138.24 h2.20 M377.90,138.24 h-2.20"/>
<path d="M66.50,128.98 h2.20 M377.90,128.98 h-2.20"/>
<path d="M66.50,119.72 h2.20 M377.90,119.72 h-2.20"/>
<path d="M66.50,110.46 h2.20 M377.90,110.46 h-2.20"/>
<path d="M66.50,101.20 h3.60 M377.90,101.20 h-3.60"/>
<path d="M66.50,91.94 h2.20 M377.90,91.94 h-2.20"/>
<path d="M66.50,82.68 h2.20 M377.90,82.68 h-2.20"/>
<path d="M66.50,73.42 h2.20 M377.90,73.42 h-2.20"/>
<path d="M66.50,64.16 h2.20 M377.90,64.16 h-2.20"/>
<path d="M66.50,54.90 h3.60 M377.90,54.90 h-3.60"/>
<path d="M66.50,45.64 h2.20 M377.90,45.64 h-2.20"/>
<path d="M66.50,36.38 h2.20 M377.90,36.38 h-2.20"/>
<path d="M66.50,27.12 h2.20 M377.90,27.12 h-2.20"/>
<path d="M66.50,17.86 h2.20 M377.90,17.86 h-2.20"/>
<path d="M66.50,8.60 h3.60 M377.90,8.60 h-3.60"/>
</g>
<g font-size="15.30">
<text transform="translate(72.60,216.25) scale(0.955,1)" text-anchor="middle">0.00</text>
<text transform="translate(114.77,216.25) scale(0.955,1)" text-anchor="middle">0.05</text>
<text transform="translate(156.94,216.25) scale(0.955,1)" text-anchor="middle">0.10</text>
<text transform="translate(199.11,216.25) scale(0.955,1)" text-anchor="middle">0.15</text>
<text transform="translate(241.28,216.25) scale(0.955,1)" text-anchor="middle">0.20</text>
<text transform="translate(283.45,216.25) scale(0.955,1)" text-anchor="middle">0.25</text>
<text transform="translate(325.62,216.25) scale(0.955,1)" text-anchor="middle">0.30</text>
<text transform="translate(367.39,216.25) scale(0.955,1)" text-anchor="middle">0.35</text>
<text transform="translate(62.9,199.10) scale(0.955,1)" text-anchor="end">0.00</text>
<text transform="translate(62.9,152.80) scale(0.955,1)" text-anchor="end">0.01</text>
<text transform="translate(62.9,106.50) scale(0.955,1)" text-anchor="end">0.02</text>
<text transform="translate(62.9,60.20) scale(0.955,1)" text-anchor="end">0.03</text>
<text transform="translate(62.9,13.90) scale(0.955,1)" text-anchor="end">0.04</text>
</g>
<text x="80.7" y="29.9" font-size="15.3">(b)</text>
<text x="201.0" y="242.5" font-size="17" font-style="italic">S</text>
<text x="210.0" y="244.1" font-size="11.5" font-style="italic">y</text>
<path d="M215.3,245.6 L219.4,232.0" stroke="#000" stroke-width="0.95" fill="none"/>
<text x="220.5" y="242.4" font-size="17.5" font-style="italic">μ</text>
<text x="229.4" y="236.1" font-size="12">1</text>
<path d="M234.0,237.2 L237.3,228.4" stroke="#000" stroke-width="0.8" fill="none"/>
<text x="238.0" y="236.2" font-size="11.8" font-style="italic">z</text>
<text x="8.0" y="90.6" font-size="16.8" font-style="italic">J</text><text x="16.8" y="93.3" font-size="10.6" font-style="italic">y</text>
<rect x="1.3" y="98.85" width="26" height="0.8" fill="#000"/>
<text x="2.6" y="123.6" font-size="16" font-style="italic">μ</text>
<text x="19.2" y="110.7" font-size="8" text-anchor="middle"><tspan font-style="italic">z</tspan>+1</text>
<rect x="12.1" y="112.85" width="13" height="0.75" fill="#1a1a1a"/>
<text x="19.7" y="122.5" font-size="8" text-anchor="middle" font-style="italic">z</text>
</svg></body></html>
